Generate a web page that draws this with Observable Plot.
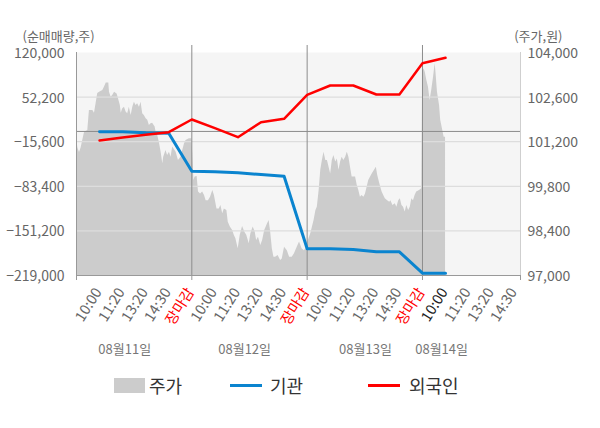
<!DOCTYPE html>
<html><head><meta charset="utf-8">
<script src="https://cdn.jsdelivr.net/npm/d3@7"></script>
<script src="https://cdn.jsdelivr.net/npm/@observablehq/plot@0.6"></script>
<style>
body{margin:0;background:#fff;font-family:"Noto Sans CJK KR","Noto Sans",sans-serif;}
#wrap{position:relative;width:600px;height:428px;}
.lg{position:absolute;font-size:18px;line-height:24px;top:373px;color:#333;}
.sw{position:absolute;}
</style>
</head><body>
<div id="wrap"><div id="chart"></div>
<div class="sw" style="left:114px;top:378px;width:31px;height:15px;background:#cccccc"></div>
<div class="lg" style="left:149px">주가</div>
<div class="sw" style="left:230px;top:384px;width:32px;height:3px;background:#0a84cf"></div>
<div class="lg" style="left:270px">기관</div>
<div class="sw" style="left:368px;top:384px;width:32px;height:3px;background:#ff0000"></div>
<div class="lg" style="left:409px">외국인</div>
</div>
<script>
// slot labels per day
const slotNames = ["10:00","11:20","13:20","14:30","장마감"];
const dayNames = ["08월11일","08월12일","08월13일","08월14일"];
const dayLabelSlot = [2.09, 7.29, 12.53, 15.83];
const leftTicks = [120000, 52200, -15600, -83400, -151200, -219000];
const priceTicks = [104000, 102600, 101200, 99800, 98400, 97000];

// net buying (shares) at slots 1..16
const institution = [-300, -600, -2070, -2700, -60450, -61400, -62900, -65470, -68050, -178420, -178400, -179500, -182990, -183000, -215500, -215500];
const foreign = [-13780, -9220, -5110, -1160, 18150, 4920, -8760, 14040, 19210, 55700, 69830, 69830, 56150, 56150, 103730, 111940];

// price [time within day in slots, price]
const day1Price = [[0,101300],[0.06,101000],[0.13,100860],[0.20,101000],[0.27,101240],[0.35,101500],[0.49,101550],[0.56,102180],[0.71,102180],[0.78,102090],[0.85,102400],[0.92,102710],[1.00,102750],[1.14,102810],[1.21,102910],[1.29,103040],[1.40,103040],[1.43,102750],[1.50,102600],[1.57,102650],[1.65,102750],[1.76,102700],[1.82,102550],[1.90,102340],[1.94,102090],[2.00,102230],[2.08,102280],[2.15,102130],[2.22,102080],[2.29,102280],[2.37,102020],[2.44,102280],[2.51,102440],[2.58,102340],[2.65,102390],[2.73,102280],[2.80,102440],[2.87,102080],[2.94,102020],[3.02,101920],[3.09,101870],[3.16,101710],[3.23,101760],[3.30,101780],[3.41,101660],[3.45,101500],[3.52,101400],[3.59,101180],[3.67,100870],[3.74,100510],[3.78,100710],[3.88,100920],[3.95,100770],[4.03,100870],[4.10,100710],[4.17,101030],[4.32,100870],[4.42,100610],[4.53,100710],[4.68,101130],[4.75,101240],[4.89,101290],[5.0,101290]];
const day2Price = [[0,101300],[0.04,100820],[0.09,99980],[0.14,100090],[0.23,100110],[0.29,99620],[0.38,99560],[0.47,99620],[0.55,99510],[0.62,99350],[0.72,99350],[0.81,99460],[0.91,99670],[0.98,99510],[1.09,99090],[1.19,99090],[1.26,99200],[1.34,98940],[1.41,99090],[1.52,99040],[1.58,98670],[1.67,98520],[1.77,98410],[1.84,98260],[1.91,98150],[2.01,97840],[2.10,98260],[2.20,98540],[2.30,98360],[2.38,98260],[2.49,98000],[2.56,98310],[2.66,98520],[2.75,98360],[2.81,98100],[2.89,98200],[2.99,97940],[3.07,98100],[3.16,98410],[3.28,98620],[3.35,98730],[3.42,98360],[3.49,97840],[3.56,97570],[3.63,97570],[3.74,97630],[3.85,97470],[3.92,97520],[4.02,97890],[4.14,97780],[4.24,97570],[4.35,97570],[4.45,97680],[4.57,97890],[4.67,98050],[4.78,97840],[4.88,97780],[5.0,97890]];
const day3Price = [[0,98000],[0.16,98320],[0.23,98520],[0.30,98730],[0.38,99040],[0.44,99140],[0.52,99670],[0.59,100300],[0.66,100610],[0.73,100870],[0.81,100610],[0.88,100610],[0.95,100400],[1.02,100190],[1.09,100610],[1.16,100770],[1.24,100560],[1.31,100660],[1.38,100300],[1.45,100560],[1.52,100710],[1.59,100610],[1.67,100710],[1.74,100870],[1.81,100710],[1.88,100400],[1.95,100090],[2.10,100090],[2.17,99830],[2.24,99670],[2.31,99460],[2.38,99510],[2.46,99460],[2.53,99560],[2.60,99770],[2.67,99980],[2.75,100090],[2.82,100190],[2.92,100300],[3.00,100400],[3.06,100140],[3.15,99880],[3.25,99620],[3.32,99510],[3.39,99410],[3.49,99350],[3.58,99300],[3.63,99350],[3.72,99200],[3.82,99250],[3.89,99140],[3.97,99350],[4.04,99410],[4.11,99200],[4.18,99140],[4.25,98990],[4.32,99200],[4.40,99040],[4.47,99140],[4.54,99410],[4.61,99350],[4.68,99510],[4.75,99620],[4.87,99670],[4.97,99720]];
const day4Price = [[0.01,103380],[0.07,103490],[0.12,103380],[0.19,103120],[0.26,102910],[0.33,102490],[0.40,102810],[0.48,103220],[0.55,103650],[0.59,103330],[0.65,102750],[0.74,102340],[0.79,101870],[0.88,101550],[0.94,101340],[1.0,101340]];

const toLeft = d3.scaleLinear().domain([97000,104000]).range([-219000,120000]);
const priceData = [day1Price, day2Price, day3Price, day4Price].flatMap((arr, d) => arr.map(([t,p]) => ({x: d*5 + t, v: toLeft(p)})));
const instData = institution.map((v,i) => ({x: i+1, v}));
const forData = foreign.map((v,i) => ({x: i+1, v}));
const xLabels = d3.range(1, 20).map(s => {
  const k = (s-1) % 5;
  return {x: s, label: slotNames[k], color: k === 4 ? "#ff0000" : (s === 16 ? "#222222" : "#666666")};
});
const dayLabels = dayNames.map((label, i) => ({x: dayLabelSlot[i], label}));
const fmt = d3.format(",");
const font = '"Noto Sans CJK KR","Noto Sans",sans-serif';

const chart = Plot.plot({
  width: 600, height: 360,
  marginTop: 52, marginBottom: 85, marginLeft: 76, marginRight: 80,
  style: {fontFamily: font, fontSize: "14px", color: "#666", background: "transparent", overflow: "visible"},
  x: {domain: [0, 19.25], axis: null},
  y: {domain: [-219000, 120000], axis: null},
  marks: [
    Plot.frame({fill: "#f5f5f5", stroke: null}),
    Plot.areaY(priceData, {x: "x", y1: -219000, y2: "v", fill: "#cccccc"}),
    Plot.ruleY([52200, -15600, -83400, -151200], {stroke: "#dddddd", strokeWidth: 1.2}),
    Plot.ruleY([0], {stroke: "#8c8c8c"}),
    Plot.ruleX([5, 10, 15], {stroke: "#8c8c8c", insetTop: -7}),
    Plot.ruleX([0], {stroke: "#999"}),
    Plot.ruleX([19.25], {stroke: "#cfcfcf"}),
    Plot.ruleY([-219000], {stroke: "#999"}),
    Plot.axisY({ticks: leftTicks, tickSize: 0, tickPadding: 12, tickFormat: fmt, fontSize: 14, label: null, dy: 1}),
    Plot.axisY({anchor: "right", ticks: priceTicks.map(toLeft), tickSize: 0, tickPadding: 7, fontSize: 14, label: null, dy: 1,
      tickFormat: d => fmt(Math.round(toLeft.invert(d) / 100) * 100)}),
    Plot.axisX({ticks: [0, 5, 10, 15, 19.25], tickSize: 5, tickFormat: () => "", stroke: "#999", label: null}),
    Plot.line(instData, {x: "x", y: "v", stroke: "#0a84cf", strokeWidth: 3}),
    Plot.line(forData, {x: "x", y: "v", stroke: "#ff0000", strokeWidth: 2.5}),
    Plot.text(xLabels, {x: "x", text: "label", fill: "color", frameAnchor: "bottom", rotate: -58, textAnchor: "end", lineAnchor: "top", dx: -6, dy: 11, fontSize: 14.5}),
    Plot.text(dayLabels, {x: "x", text: "label", frameAnchor: "bottom", dy: 78, fill: "#777", fontSize: 13}),
    Plot.text(["(순매매량,주)"], {text: d => d, frameAnchor: "top-left", textAnchor: "start", dx: -54, dy: -21, fill: "#666", fontSize: 13}),
    Plot.text(["(주가,원)"], {text: d => d, frameAnchor: "top-right", textAnchor: "end", dx: 42, dy: -21, fill: "#666", fontSize: 13})
  ]
});
document.getElementById("chart").appendChild(chart);
</script>
</body></html>
